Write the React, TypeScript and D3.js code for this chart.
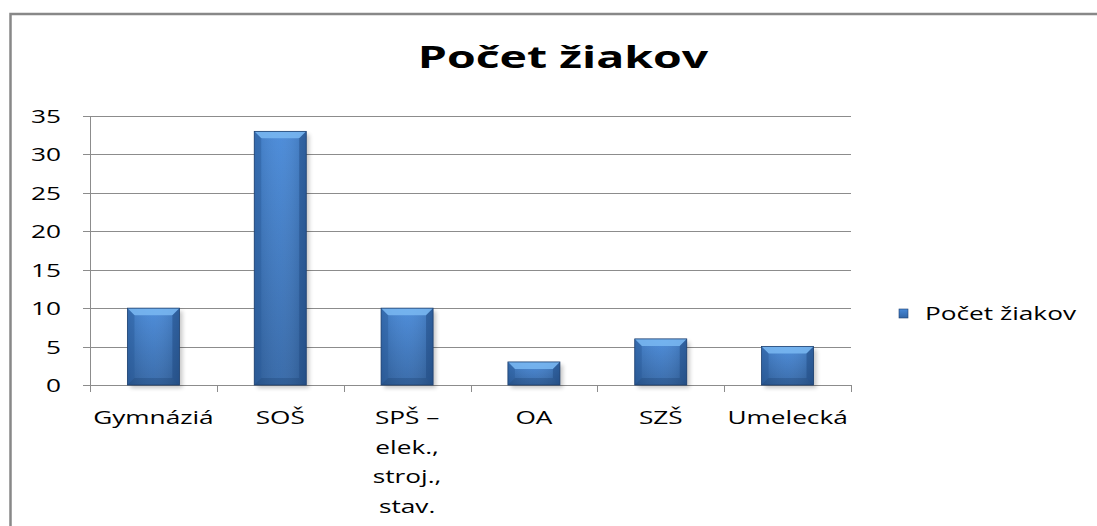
import * as d3 from "d3";

const categories = ["Gymnáziá", "SOŠ", "SPŠ –\nelek.,\nstroj.,\nstav.", "OA", "SZŠ", "Umelecká"];
const values = [10, 33, 10, 3, 6, 5];
const yTicks = [0, 5, 10, 15, 20, 25, 30, 35];
const seriesName = "Počet žiakov";
const title = "Počet žiakov";

const W = 1097;
const H = 526;
const FONT = "'Open Sans', 'DejaVu Sans', sans-serif";
const SX = 1.38; // picture looks stretched sideways

const plot = { left: 90, right: 851, top: 116, bottom: 385 };

export default function App() {
  const x = d3
    .scaleBand()
    .domain(categories)
    .range([plot.left, plot.right])
    .paddingInner(0.59)
    .paddingOuter(0.295);

  const y = d3.scaleLinear().domain([0, 35]).range([plot.bottom, plot.top]);

  const step = (plot.right - plot.left) / categories.length;
  const bev = 7;

  return (
    <svg
      width={W}
      height={H}
      style={{ position: "absolute", left: 0, top: 0, background: "#fff" }}
      fontFamily={FONT}
    >
      <defs>
        <linearGradient id="barFill" x1="0" y1="0" x2="0" y2="1">
          <stop offset="0" stopColor="#4688d8" />
          <stop offset="1" stopColor="#3165a6" />
        </linearGradient>
        <linearGradient id="barSide" x1="0" y1="0" x2="1" y2="0">
          <stop offset="0" stopColor="#000" stopOpacity={0.12} />
          <stop offset="0.5" stopColor="#fff" stopOpacity={0.05} />
          <stop offset="1" stopColor="#000" stopOpacity={0.16} />
        </linearGradient>
        <filter id="shadow" x="-20%" y="-20%" width="140%" height="140%">
          <feGaussianBlur stdDeviation="2" />
        </filter>
      </defs>

      {/* chart border */}
      <path d={`M10.5,${H} V14 H${W}`} fill="none" stroke="#888" strokeWidth={2.5} />

      <text
        transform={`translate(563,68) scale(1.5,1)`}
        textAnchor="middle"
        fontSize={31}
        fontWeight="bold"
        fill="#000"
      >
        {title}
      </text>

      {/* gridlines */}
      {yTicks.map((t) => (
        <g key={t}>
          <line
            x1={plot.left - 7}
            x2={plot.right}
            y1={Math.round(y(t)) + 0.5}
            y2={Math.round(y(t)) + 0.5}
            stroke="#8c8c8c"
            strokeWidth={1}
          />
          <text
            transform={`translate(61,${y(t) + 7}) scale(${SX},1)`}
            textAnchor="end"
            fontSize={19}
            fill="#000"
          >
            {t}
          </text>
        </g>
      ))}

      {/* axes */}
      <line x1={plot.left + 0.5} x2={plot.left + 0.5} y1={plot.top} y2={plot.bottom + 7} stroke="#8c8c8c" />
      {categories.map((_, i) => (
        <line
          key={i}
          x1={Math.round(plot.left + step * (i + 1)) + 0.5}
          x2={Math.round(plot.left + step * (i + 1)) + 0.5}
          y1={plot.bottom}
          y2={plot.bottom + 7}
          stroke="#8c8c8c"
        />
      ))}

      {/* bars */}
      {categories.map((c, i) => {
        const x0 = x(c)!;
        const w = x.bandwidth();
        const y0 = y(values[i]);
        const y1 = y(0);
        const h = y1 - y0;
        const b = Math.min(bev, h / 2.5);
        return (
          <g key={c}>
            <rect x={x0 + 3} y={y0 + 3} width={w} height={h} fill="#000" opacity={0.22} filter="url(#shadow)" />
            <rect x={x0} y={y0} width={w} height={h} fill="url(#barFill)" />
            <rect x={x0} y={y0} width={w} height={h} fill="url(#barSide)" />
            <polygon
              points={`${x0},${y0} ${x0 + w},${y0} ${x0 + w - b},${y0 + b} ${x0 + b},${y0 + b}`}
              fill="#7ab8f2"
              opacity={0.85}
            />
            <polygon
              points={`${x0},${y0} ${x0 + b},${y0 + b} ${x0 + b},${y1 - b} ${x0},${y1}`}
              fill="#2b5c9a"
              opacity={0.45}
            />
            <polygon
              points={`${x0 + w},${y0} ${x0 + w - b},${y0 + b} ${x0 + w - b},${y1 - b} ${x0 + w},${y1}`}
              fill="#1f4a82"
              opacity={0.5}
            />
            <polygon
              points={`${x0},${y1} ${x0 + b},${y1 - b} ${x0 + w - b},${y1 - b} ${x0 + w},${y1}`}
              fill="#1c3f6e"
              opacity={0.3}
            />
            <rect x={x0} y={y0} width={w} height={h} fill="none" stroke="#1f4170" strokeWidth={0.8} />
          </g>
        );
      })}

      {/* category labels */}
      {categories.map((c) => {
        const cx = x(c)! + x.bandwidth() / 2;
        return c.split("\n").map((line, j) => (
          <text
            key={c + j}
            transform={`translate(${cx},${424 + j * 29.5}) scale(${SX},1)`}
            textAnchor="middle"
            fontSize={19}
            fill="#000"
          >
            {line}
          </text>
        ));
      })}

      {/* legend */}
      <rect x={899} y={309} width={9} height={9} fill="url(#barFill)" stroke="#1f4170" strokeWidth={0.6} />
      <text transform={`translate(925,320) scale(${SX},1)`} fontSize={19} fill="#000">
        {seriesName}
      </text>
    </svg>
  );
}
